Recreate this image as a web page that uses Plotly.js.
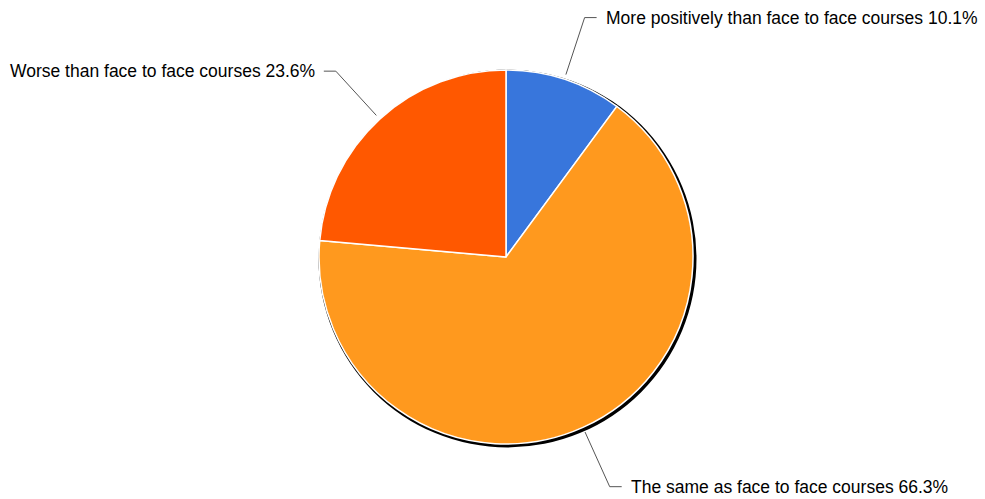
<!DOCTYPE html>
<html>
<head>
<meta charset="utf-8">
<script src="https://cdn.plot.ly/plotly-3.0.1.min.js"></script>
<style>html,body{margin:0;padding:0;background:#fff;}#chart{width:985px;height:499px;}</style>
</head>
<body>
<div id="chart"></div>
<script>
const labels = ["More positively than face to face courses", "The same as face to face courses", "Worse than face to face courses"];
const values = [10.1, 66.3, 23.6];
const colors = ["#3876dc", "#ff991e", "#ff5800"];

const W = 985, H = 499;
const cx = 506, cy = 257, R = 187;
const px = x => x / W;
const py = y => 1 - y / H;

const total = values.reduce((a, b) => a + b, 0);
const shapes = [{
  type: 'circle', layer: 'below', xref: 'paper', yref: 'paper',
  x0: px(cx + 1.5 - 189), x1: px(cx + 1.5 + 189),
  y0: py(cy + 1.5 + 189), y1: py(cy + 1.5 - 189),
  fillcolor: '#000000', line: {width: 0}
}];
const annotations = [];
let cum = 0;
values.forEach((v, i) => {
  const th = 2 * Math.PI * (cum + v / 2) / total;
  cum += v;
  const dx = Math.sin(th), dy = -Math.cos(th);
  const r0 = 192, r1 = 252;
  const x0 = cx + r0 * dx, y0 = cy + r0 * dy;
  const x1 = cx + r1 * dx, y1 = cy + r1 * dy;
  const side = dx >= 0 ? 1 : -1;
  const x2 = x1 + side * 12;
  shapes.push({
    type: 'path', xref: 'paper', yref: 'paper', layer: 'above',
    path: `M ${px(x0)} ${py(y0)} L ${px(x1)} ${py(y1)} L ${px(x2)} ${py(y1)}`,
    line: {color: '#555555', width: 1}
  });
  annotations.push({
    xref: 'paper', yref: 'paper', showarrow: false,
    x: px(x2 + side * 7), y: py(y1),
    xanchor: side > 0 ? 'left' : 'right', yanchor: 'middle',
    text: labels[i] + ' ' + v.toFixed(1) + '%',
    font: {family: 'Liberation Sans, Arial, sans-serif', size: 17.5, color: '#000000'}
  });
});

const trace = {
  type: 'pie', labels: labels, values: values, sort: false,
  direction: 'clockwise', rotation: 0,
  marker: {colors: colors, line: {color: '#ffffff', width: 1.5}},
  textinfo: 'none', hoverinfo: 'label+percent',
  domain: {x: [px(cx - R), px(cx + R)], y: [py(cy + R), py(cy - R)]}
};

Plotly.newPlot('chart', [trace], {
  width: W, height: H, margin: {l: 0, r: 0, t: 0, b: 0},
  showlegend: false, paper_bgcolor: '#ffffff',
  shapes: shapes, annotations: annotations
}, {displayModeBar: false, staticPlot: true});
</script>
</body>
</html>
